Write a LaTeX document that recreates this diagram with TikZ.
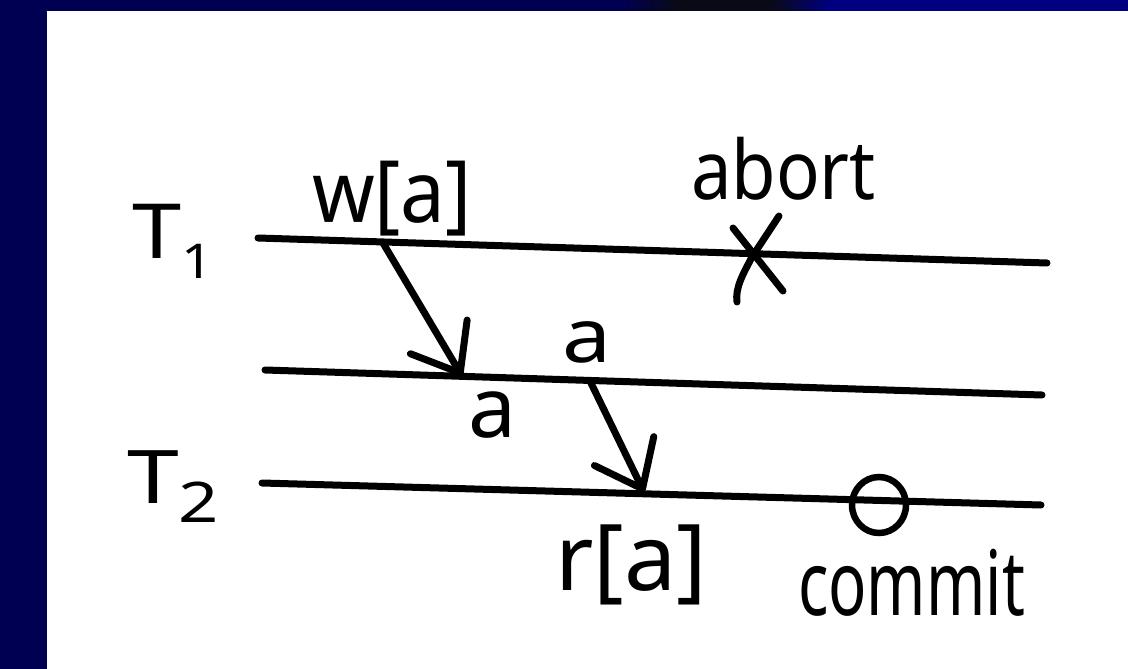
\documentclass[tikz,border=0pt]{standalone}
\usepackage{fontspec}
\setmainfont{Noto Sans}
\usepackage{graphicx}
\usetikzlibrary{arrows.meta,shapes.geometric}
\definecolor{navy}{RGB}{0,0,82}
\definecolor{navyb}{RGB}{0,0,128}
\definecolor{darkspot}{RGB}{10,10,22}
\newcommand\hw[3]{\resizebox{#1}{\height}{\fontsize{#2}{#2}\selectfont #3}}
\begin{document}
\begin{tikzpicture}[x=1pt,y=-1pt,
  ink/.style={line width=7pt, line cap=round, line join=round, black},
  lbl/.style={inner sep=0pt, outer sep=0pt, anchor=base west},
  arr/.style={ink, -{Straight Barb[length=42pt,width=66pt,round]}}]
% background
\useasboundingbox (0,0) rectangle (1128,669);
\fill[navy] (0,0) rectangle (1128,669);
\fill[white] (47,11) rectangle (1128,669);
\fill[navy] (0,0) rectangle (620,11);
\shade[left color=navy,right color=darkspot] (620,0) rectangle (680,11);
\fill[darkspot] (680,0) rectangle (770,11);
\shade[left color=darkspot,right color=navyb] (770,0) rectangle (830,11);
\fill[navyb] (830,0) rectangle (1128,11);
% timelines
\coordinate (t1s) at (258,238); \coordinate (t1e) at (1047,263);
\coordinate (t0s) at (265,370); \coordinate (t0e) at (1042,395);
\coordinate (t2s) at (262,483); \coordinate (t2e) at (1041,505);
\draw[ink] (t1s) -- (t1e);
\draw[ink] (t0s) -- (t0e);
\draw[ink] (t2s) -- (t2e);
% arrows
\coordinate (w) at (383,243);
\coordinate (tip1) at (462,376);
\coordinate (s2) at (590,381);
\coordinate (tip2) at (644,492);
\draw[arr] (w) -- (tip1);
\draw[arr] (s2) -- (tip2);
% abort mark
\coordinate (x1a) at (733,228); \coordinate (x1b) at (783,291);
\coordinate (x2a) at (779,216); \coordinate (x2b) at (737,302);
\draw[ink] (x1a) -- (x1b);
\draw[ink] (x2a) -- (752,257) .. controls (743,274) and (735,288) .. (x2b);
% commit mark
\node[ellipse, draw, line width=6.5pt, minimum width=54pt, minimum height=56pt, inner sep=0pt] (cm) at (879,505) {};
% labels
\node[lbl] (T1) at (132,258) {\hw{81pt}{76}{T\raisebox{-20pt}{\fontsize{48}{48}\selectfont 1}}};
\node[lbl] (wa) at (312,222) {\hw{160pt}{86}{w[a]}};
\node[lbl] (abort) at (691,199) {\hw{185pt}{82}{abort}};
\node[lbl] (a1) at (468,437) {\hw{48pt}{84}{a}};
\node[lbl] (a2) at (562,362) {\hw{49pt}{75}{a}};
\node[lbl] (T2) at (127,503) {\hw{92pt}{74}{T\raisebox{-19pt}{\fontsize{56}{56}\selectfont 2}}};
\node[lbl] (ra) at (555,590) {\hw{152pt}{92}{r[a]}};
\node[lbl] (commit) at (798,615) {\hw{227pt}{90}{commit}};
\end{tikzpicture}
\end{document}
